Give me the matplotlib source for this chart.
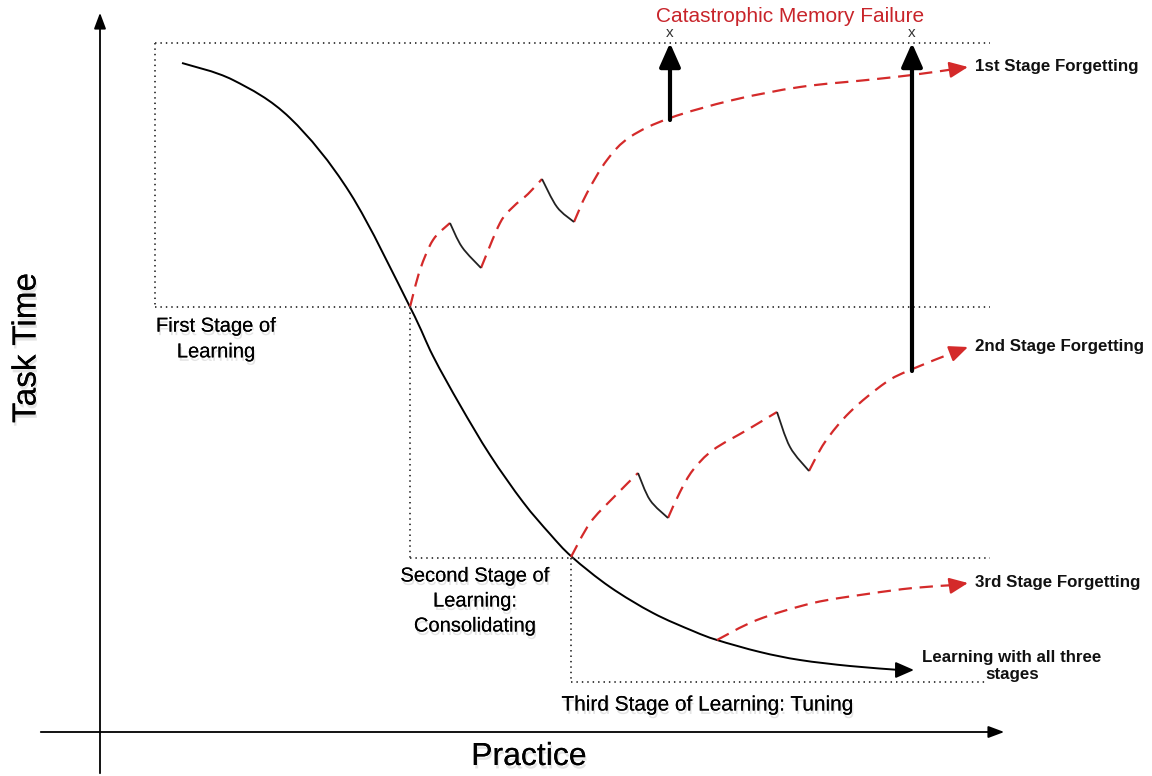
import matplotlib.pyplot as plt
import matplotlib.patheffects as pe
from matplotlib.path import Path
from matplotlib.patches import PathPatch

# canvas units follow the picture: x = practice, y = task time (drawn downwards)
W, H = 1152, 776

# main learning curve
learn_x = [182, 233, 290, 350, 410, 433, 460, 490, 523, 550, 572, 610, 653, 693, 717, 760, 800, 850, 900]
learn_y = [63, 80, 118, 193, 307, 356, 405, 455, 502, 534, 557, 587, 613, 631, 640, 652, 660, 666, 670]
learn_tip = (914, 670)

# 1st stage forgetting: red dashed climbs, black solid relearning dips
f1_red = [
    ([410, 420, 433, 450], [307, 270, 240, 223]),
    ([481, 500, 513, 528, 542], [268, 223, 207, 194, 179]),
    ([574, 587, 607, 630, 670, 733, 800, 867, 912, 955], [222, 193, 160, 137, 118, 100, 87, 80, 75, 69]),
]
f1_black = [
    ([450, 462, 481], [223, 247, 268]),
    ([542, 557, 574], [179, 207, 222]),
]
f1_tip = (968, 67)

# 2nd stage forgetting
f2_red = [
    ([571, 590, 613, 638], [557, 523, 498, 473]),
    ([668, 680, 693, 713, 747, 777], [518, 492, 470, 450, 430, 412]),
    ([809, 825, 850, 885, 910, 955], [471, 442, 412, 383, 370, 352]),
]
f2_black = [
    ([638, 650, 668], [473, 500, 518]),
    ([777, 790, 809], [412, 447, 471]),
]
f2_tip = (968, 347)

# 3rd stage forgetting
f3_x = [717, 757, 813, 867, 913, 955]
f3_y = [640, 620, 603, 594, 588, 585]
f3_tip = (968, 583)

# catastrophic failure arrows (x, from, to)
fail_x = [670, 912]
fail_from = [120, 371]
fail_to = [43, 43]

# dotted stage boxes
box_lines = [
    ([155, 155], [43, 307]), ([155, 990], [43, 43]), ([155, 990], [307, 307]),
    ([410, 410], [307, 558]), ([410, 990], [558, 558]),
    ([571, 571], [558, 682]), ([571, 985], [682, 682]),
]

RED = '#d42a2a'
shadow = [pe.withSimplePatchShadow(offset=(1, -2.5), shadow_rgbFace='#888888', alpha=0.22), pe.Normal()]


def smooth(ax, xs, ys, **kw):
    # draw a smooth bezier through the read points (catmull-rom handles)
    pts = list(zip(xs, ys))
    verts = [pts[0]]
    codes = [Path.MOVETO]
    for i in range(len(pts) - 1):
        p0 = pts[i - 1] if i > 0 else pts[i]
        p1, p2 = pts[i], pts[i + 1]
        p3 = pts[i + 2] if i + 2 < len(pts) else pts[i + 1]
        c1 = (p1[0] + (p2[0] - p0[0]) / 6, p1[1] + (p2[1] - p0[1]) / 6)
        c2 = (p2[0] - (p3[0] - p1[0]) / 6, p2[1] - (p3[1] - p1[1]) / 6)
        verts += [c1, c2, p2]
        codes += [Path.CURVE4] * 3
    ax.add_patch(PathPatch(Path(verts, codes), fill=False, **kw))


def head(ax, tip, start, color, lw=1.6, ms=14):
    ax.annotate('', xy=tip, xytext=start,
                arrowprops=dict(arrowstyle='-|>,head_length=0.8,head_width=0.35', color=color, lw=lw,
                                mutation_scale=ms, shrinkA=0, shrinkB=0))


fig = plt.figure(figsize=(W / 100, H / 100), dpi=100)
ax = fig.add_axes([0, 0, 1, 1])
ax.set_xlim(0, W)
ax.set_ylim(H, 0)
ax.axis('off')

# axes arrows
ax.annotate('', xy=(100, 10), xytext=(100, H), arrowprops=dict(arrowstyle='-|>,head_length=0.8,head_width=0.3', color='black', lw=1.3, mutation_scale=12))
ax.annotate('', xy=(1007, 732), xytext=(38, 732), arrowprops=dict(arrowstyle='-|>,head_length=0.8,head_width=0.3', color='black', lw=1.3, mutation_scale=12))

for xs, ys in box_lines:
    ax.plot(xs, ys, color='#333333', lw=1.3, linestyle=(0, (0.8, 2.2)))

smooth(ax, learn_x, learn_y, color='black', lw=1.4)
head(ax, learn_tip, (learn_x[-1], learn_y[-1]), 'black', lw=1.4)

for reds, blacks, tip in [(f1_red, f1_black, f1_tip), (f2_red, f2_black, f2_tip)]:
    for xs, ys in reds:
        smooth(ax, xs, ys, color=RED, lw=1.6, linestyle=(0, (6, 3.5)))
    for xs, ys in blacks:
        smooth(ax, xs, ys, color='#222222', lw=1.3)
    head(ax, tip, (reds[-1][0][-1], reds[-1][1][-1]), RED)

smooth(ax, f3_x, f3_y, color=RED, lw=1.6, linestyle=(0, (6, 3.5)))
head(ax, f3_tip, (f3_x[-1], f3_y[-1]), RED)

for x, y0, y1 in zip(fail_x, fail_from, fail_to):
    ax.annotate('', xy=(x, y1), xytext=(x, y0),
                arrowprops=dict(arrowstyle='-|>,head_length=0.9,head_width=0.4', color='black', lw=3, mutation_scale=16, shrinkA=0, shrinkB=0))
    ax.text(x, 33, 'x', ha='center', va='center', fontsize=11, color='#333333', family='Liberation Sans')

ax.text(790, 17, 'Catastrophic Memory Failure', ha='center', va='center', fontsize=15, color='#c8242a', family='Liberation Sans')

bold = dict(fontsize=12.2, fontweight='bold', family='Liberation Sans', va='center', ha='left', color='#111111')
ax.text(975, 66, '1st Stage Forgetting', **bold)
ax.text(975, 346, '2nd Stage Forgetting', **bold)
ax.text(975, 582, '3rd Stage Forgetting', **bold)
ax.text(1012, 666, 'Learning with all three\nstages', fontsize=12.2, fontweight='bold', family='Liberation Sans',
        ha='center', va='center', linespacing=1.15, color='#111111')

ax.text(216, 339, 'First Stage of\nLearning', ha='center', va='center', fontsize=14.5,
        family='Liberation Sans', linespacing=1.45, path_effects=shadow)
ax.text(475, 601, 'Second Stage of\nLearning:\nConsolidating', ha='center', va='center', fontsize=14.5,
        family='Liberation Sans', linespacing=1.4, path_effects=shadow)
ax.text(708, 705, 'Third Stage of Learning: Tuning', ha='center', va='center', fontsize=15,
        family='Liberation Sans', path_effects=shadow)
ax.text(529, 757, 'Practice', ha='center', va='center', fontsize=23,
        family='Liberation Sans', path_effects=shadow)
ax.text(27, 348, 'Task Time', ha='center', va='center', fontsize=24, rotation=90,
        family='Liberation Sans', path_effects=shadow)

fig.savefig('out.png', dpi=100)
